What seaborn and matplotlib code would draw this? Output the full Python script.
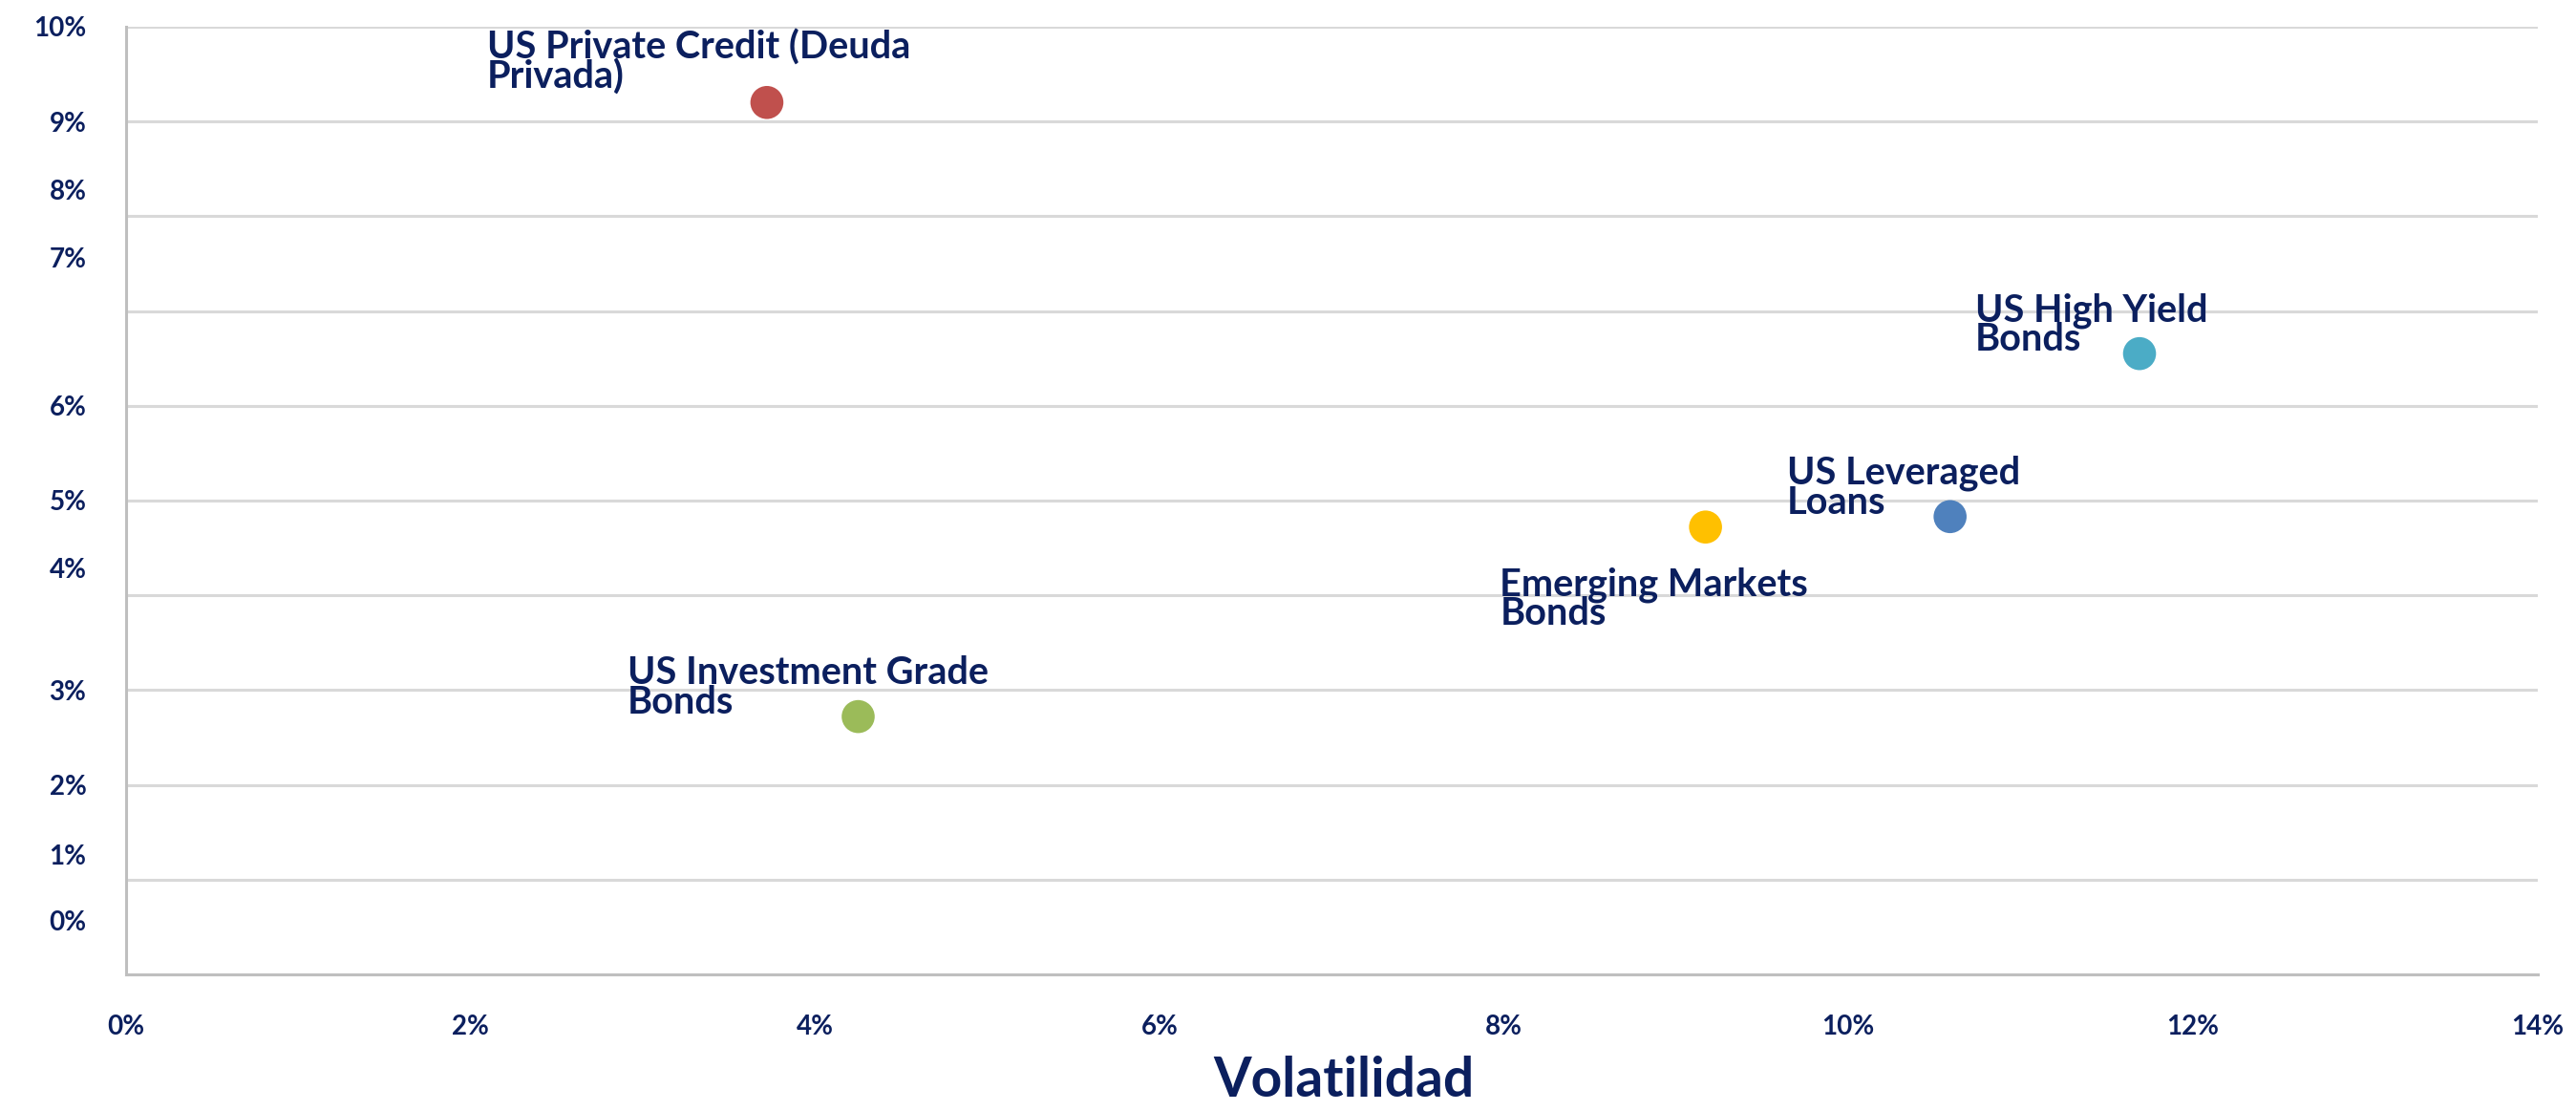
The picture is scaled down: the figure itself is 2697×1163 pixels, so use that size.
import numpy as np
import matplotlib
matplotlib.use("Agg")
import matplotlib.pyplot as plt
import seaborn as sns
import pandas as pd

# datos (volatilidad vs rentabilidad, en %)
activos = ["US Private Credit (Deuda\nPrivada)", "US High Yield\nBonds", "US Leveraged\nLoans",
           "Emerging Markets\nBonds", "US Investment Grade\nBonds"]
volatilidad = [3.72, 11.69, 10.59, 9.17, 4.25]
rentabilidad = [9.20, 6.55, 4.83, 4.72, 2.72]
colores = ["#c0504d", "#4bacc6", "#4f81bd", "#ffc000", "#9bbb59"]

x_ticks = [0, 2, 4, 6, 8, 10, 12, 14]
x_labels = ["0%", "2%", "4%", "6%", "8%", "10%", "12%", "14%"]
# las etiquetas del eje Y no están alineadas con la rejilla en el original
y_label_pos = [10, 9, 8.28, 7.56, 6, 5, 4.29, 3, 2, 1.26, 0.57]
y_labels = ["10%", "9%", "8%", "7%", "6%", "5%", "4%", "3%", "2%", "1%", "0%"]
y_grid = list(range(0, 11))

navy = "#0b1f5e"

df = pd.DataFrame({"activo": activos, "vol": volatilidad, "ret": rentabilidad})

sns.set_style("white")
plt.rcParams["font.family"] = ["Lato", "DejaVu Sans"]

fig = plt.figure(figsize=(26.97, 11.63), dpi=100)
ax = fig.add_axes([0.049, 0.123, 0.936, 0.853])

sns.scatterplot(data=df, x="vol", y="ret", hue="activo", palette=colores,
                s=620, edgecolor="none", legend=False, ax=ax, zorder=3)

# desplazamiento de las etiquetas (en puntos) respecto a cada punto
offsets = [(-211, 55), (-124, 46), (-123, 46), (-155, -30), (-174, 46)]
for (_, r), (dx, dy) in zip(df.iterrows(), offsets):
    ax.annotate(r["activo"], (r["vol"], r["ret"]), xytext=(dx, dy), textcoords="offset points",
                ha="left", va="top", fontsize=28.5, fontweight="bold", color=navy,
                linespacing=0.78, zorder=4)

ax.set_xlim(0, 14)
ax.set_ylim(0, 10)
ax.set_xticks(x_ticks)
ax.set_xticklabels(x_labels)
ax.set_yticks(y_label_pos)
ax.set_yticklabels(y_labels)
ax.yaxis.remove_overlapping_locs = False
ax.set_yticks(y_grid, minor=True)
ax.grid(False)
ax.grid(which="minor", axis="y", color="#d9d9d9", linewidth=2.2)
ax.tick_params(axis="both", which="both", length=0, labelsize=20, labelcolor=navy, pad=30)
for lab in ax.get_xticklabels() + ax.get_yticklabels():
    lab.set_fontweight("bold")

for s in ["top", "right"]:
    ax.spines[s].set_visible(False)
for s in ["left", "bottom"]:
    ax.spines[s].set_color("#bfbfbf")
    ax.spines[s].set_linewidth(2.2)

ax.set_xlabel("Volatilidad", fontsize=41, fontweight="bold", color=navy)
ax.xaxis.set_label_coords(0.505, -0.139)
ax.xaxis.label.set_va("bottom")
ax.set_ylabel("")

fig.savefig("out.png", dpi=100, facecolor="white")
